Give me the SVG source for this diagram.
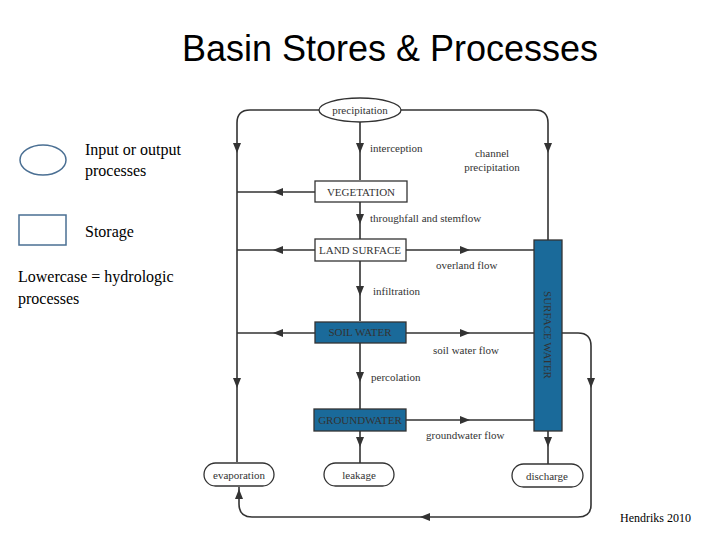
<svg xmlns="http://www.w3.org/2000/svg" width="720" height="540" viewBox="0 0 720 540">
<style>
.ln{fill:none;stroke:#333;stroke-width:1.6}
.bx{fill:#fff;stroke:#333;stroke-width:1.3}
.bl{fill:#1a6a9a;stroke:#333;stroke-width:1.3}
.t{font-family:"Liberation Serif",serif;font-size:11px;fill:#333}
.tc{font-family:"Liberation Serif",serif;font-size:11px;fill:#333;text-anchor:middle}
.lg{font-family:"Liberation Serif",serif;font-size:16px;fill:#000}
</style>
<defs>
<marker id="a" viewBox="0 0 10 10" refX="5" refY="5" markerWidth="6" markerHeight="6" orient="auto-start-reverse"><path d="M0,1 L10,5 L0,9 z" fill="#333"/></marker>
</defs>
<text x="390" y="61" text-anchor="middle" font-family="Liberation Sans,sans-serif" font-size="36">Basin Stores &amp; Processes</text>
<g id="legend">
<ellipse cx="43" cy="160" rx="23" ry="15" fill="#fff" stroke="#4a6f93" stroke-width="1.5"/>
<rect x="19" y="215" width="47" height="30" fill="#fff" stroke="#4a6f93" stroke-width="1.5"/>
<text class="lg" x="85" y="155">Input or output</text>
<text class="lg" x="85" y="176">processes</text>
<text class="lg" x="85" y="237">Storage</text>
<text class="lg" x="18" y="282">Lowercase = hydrologic</text>
<text class="lg" x="18" y="304">processes</text>
</g>
<g id="connectors">
<path class="ln" d="M320,110 H250 Q237,110 237,123 V462"/>
<path class="ln" d="M400,110 H535 Q548,110 548,123 V240"/>
<path class="ln" d="M360,122 V180 M360,202 V239 M360,261 V321 M360,343 V409 M360,431 V463 M548,431 V464"/>
<path class="ln" d="M315,192 H237 M315,250 H237 M315,333 H237 M406,250 H534 M406,333 H534 M406,420 H534"/>
<path class="ln" d="M562,333 H578 Q591,333 591,346 V505 Q591,517 578,517 H252 Q239,517 239,504 V487"/>
<g fill="#333">
<path d="M233,143 L241,143 L237,153 z"/><path d="M544,143 L552,143 L548,153 z"/>
<path d="M356,143 L364,143 L360,153 z"/><path d="M356,214 L364,214 L360,224 z"/><path d="M356,286 L364,286 L360,296 z"/><path d="M356,372 L364,372 L360,382 z"/><path d="M356,437 L364,437 L360,447 z"/><path d="M544,437 L552,437 L548,447 z"/>
<path d="M233,378 L241,378 L237,388 z"/><path d="M587,378 L595,378 L591,388 z"/>
<path d="M235,499 L243,499 L239,489 z"/><path d="M430,513 L430,521 L420,517 z"/>
<path d="M283,188 L283,196 L273,192 z"/><path d="M283,246 L283,254 L273,250 z"/><path d="M283,329 L283,337 L273,333 z"/>
<path d="M460,246 L460,254 L470,250 z"/><path d="M460,329 L460,337 L470,333 z"/><path d="M460,416 L460,424 L470,420 z"/>
</g>
</g>
<g id="precipitation"><ellipse cx="360" cy="110" rx="41" ry="12" class="bx"/><text class="tc" x="360" y="114">precipitation</text></g>
<g id="vegetation"><rect x="315" y="181" width="92" height="21" class="bx"/><text class="tc" x="361" y="196">VEGETATION</text></g>
<g id="landsurface"><rect x="315" y="239" width="91" height="22" class="bx"/><text class="tc" x="360" y="254">LAND SURFACE</text></g>
<g id="soilwater"><rect x="315" y="322" width="91" height="21" class="bl"/><text class="tc" x="360" y="336">SOIL WATER</text></g>
<g id="groundwater"><rect x="314" y="409" width="92" height="22" class="bl"/><text class="tc" x="360" y="424">GROUNDWATER</text></g>
<g id="surfacewater"><rect x="534" y="240" width="28" height="191" class="bl"/><text class="tc" transform="translate(544,335) rotate(90)">SURFACE WATER</text></g>
<g id="evaporation"><rect x="204" y="463" width="70" height="23" rx="11.5" class="bx"/><text class="tc" x="239" y="479">evaporation</text></g>
<g id="leakage"><rect x="324" y="463" width="70" height="23" rx="11.5" class="bx"/><text class="tc" x="359" y="479">leakage</text></g>
<g id="discharge"><rect x="512" y="464" width="71" height="23" rx="11.5" class="bx"/><text class="tc" x="547" y="480">discharge</text></g>
<g id="labels">
<text class="t" x="370" y="152">interception</text>
<text class="tc" x="492" y="157">channel</text>
<text class="tc" x="492" y="171">precipitation</text>
<text class="t" x="370" y="222">throughfall and stemflow</text>
<text class="t" x="436" y="269">overland flow</text>
<text class="t" x="373" y="295">infiltration</text>
<text class="t" x="433" y="354">soil water flow</text>
<text class="t" x="371" y="381">percolation</text>
<text class="t" x="426" y="439">groundwater flow</text>
</g>
<text x="620" y="522" font-family="Liberation Serif,serif" font-size="12">Hendriks 2010</text>
</svg>
